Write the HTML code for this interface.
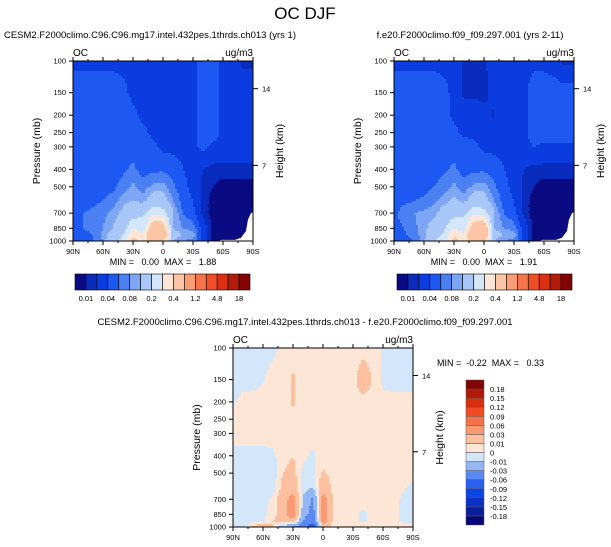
<!DOCTYPE html>
<html><head><meta charset="utf-8">
<style>
html,body{margin:0;padding:0;background:#fff;}
svg{display:block;font-family:"Liberation Sans",sans-serif;}
</style></head>
<body>
<svg id="chart" width="611" height="547" viewBox="0 0 611 547" xmlns="http://www.w3.org/2000/svg">
<text x="305" y="19" font-size="17" text-anchor="middle">OC DJF</text>
<g id="root"></g>
</svg>
<script>
// ---------- data ----------
const lats = [90,80,70,60,50,40,30,20,10,0,-10,-20,-30,-40,-50,-60,-70,-80,-90];
const levels = [100,150,200,250,300,400,500,600,700,850,925,1000];
const absBounds = [0.01,0.02,0.04,0.06,0.08,0.1,0.2,0.3,0.4,0.8,1.2,2.4,4.8,9.6,18];
const absLabels = ["0.01","0.04","0.08","0.2","0.4","1.2","4.8","18"];
const diffBounds = [-0.18,-0.15,-0.12,-0.09,-0.06,-0.03,-0.01,0,0.01,0.03,0.06,0.09,0.12,0.15,0.18];
const diffLabels = ["-0.18","-0.15","-0.12","-0.09","-0.06","-0.03","-0.01","0","0.01","0.03","0.06","0.09","0.12","0.15","0.18"];
const absColors = ["#0a0a82","#0a2cbc","#0a3ce0","#1e58f2","#4a80f2","#7ea6f5","#a9c6f8","#d3e6fa","#fde6d6","#fcc6a6","#f99c78","#f5744c","#ef4e26","#dc3012","#b31c0a","#840404"];
const diffColors = ["#06067a","#0a1e9a","#0a30c8","#0a44e6","#2a60f0","#5a88f2","#94b6f6","#d3e6fa","#fde6d6","#fcc0a0","#f99a72","#f5734a","#ef4c24","#da2e10","#b21a08","#820404"];
const leftVals = [
[0.035,0.035,0.035,0.035,0.035,0.035,0.035,0.035,0.035,0.035,0.035,0.035,0.035,0.05,0.05,0.035,0.03,0.015,0.015],
[0.05,0.05,0.05,0.05,0.05,0.045,0.035,0.035,0.035,0.035,0.035,0.035,0.035,0.05,0.05,0.035,0.035,0.035,0.035],
[0.05,0.05,0.05,0.05,0.05,0.05,0.045,0.035,0.035,0.035,0.035,0.035,0.035,0.05,0.05,0.035,0.035,0.035,0.035],
[0.05,0.05,0.05,0.05,0.05,0.05,0.05,0.045,0.035,0.035,0.035,0.035,0.035,0.05,0.05,0.035,0.035,0.035,0.035],
[0.05,0.05,0.05,0.05,0.05,0.05,0.05,0.05,0.045,0.035,0.035,0.035,0.035,0.045,0.035,0.035,0.035,0.035,0.035],
[0.05,0.05,0.05,0.05,0.05,0.055,0.065,0.05,0.055,0.055,0.05,0.04,0.035,0.02,0.015,0.015,0.015,0.015,0.015],
[0.05,0.05,0.05,0.05,0.055,0.07,0.085,0.07,0.085,0.09,0.065,0.045,0.035,0.015,0.01,0.005,0.005,0.005,0.005],
[0.05,0.05,0.055,0.06,0.07,0.09,0.1,0.09,0.13,0.12,0.08,0.05,0.04,0.015,0.005,0.005,0.005,0.005,0.005],
[0.055,0.06,0.065,0.075,0.085,0.11,0.15,0.18,0.28,0.25,0.1,0.06,0.045,0.015,0.005,0.005,0.005,0.005,0.005],
[0.05,0.06,0.065,0.08,0.1,0.15,0.3,0.25,0.5,0.5,0.1,0.08,0.07,0.03,0.005,0.005,0.005,0.005,0.005],
[0.05,0.055,0.06,0.085,0.12,0.2,0.38,0.32,0.6,0.6,0.12,0.1,0.09,0.03,0.005,0.005,0.005,0.005,0.005],
[0.045,0.05,0.06,0.08,0.15,0.25,0.45,0.35,0.45,0.4,0.1,0.08,0.07,0.03,0.005,0.005,0.005,0.005,0.005]];
const rightVals = [
[0.035,0.035,0.035,0.035,0.035,0.035,0.035,0.015,0.015,0.015,0.035,0.035,0.035,0.035,0.035,0.035,0.03,0.015,0.015],
[0.05,0.05,0.05,0.05,0.05,0.045,0.035,0.015,0.015,0.015,0.025,0.035,0.035,0.035,0.05,0.05,0.05,0.05,0.05],
[0.05,0.05,0.05,0.05,0.05,0.05,0.035,0.035,0.035,0.025,0.018,0.035,0.035,0.035,0.05,0.05,0.05,0.05,0.05],
[0.05,0.05,0.05,0.05,0.05,0.05,0.045,0.035,0.035,0.035,0.035,0.035,0.035,0.035,0.05,0.05,0.05,0.05,0.05],
[0.05,0.05,0.05,0.05,0.05,0.05,0.05,0.05,0.045,0.035,0.035,0.035,0.035,0.035,0.04,0.035,0.035,0.035,0.035],
[0.05,0.05,0.05,0.05,0.05,0.055,0.065,0.05,0.055,0.055,0.05,0.04,0.035,0.02,0.015,0.015,0.015,0.015,0.015],
[0.05,0.05,0.05,0.05,0.06,0.07,0.085,0.07,0.085,0.09,0.065,0.045,0.035,0.015,0.01,0.005,0.005,0.005,0.005],
[0.05,0.055,0.06,0.065,0.075,0.09,0.11,0.09,0.13,0.12,0.08,0.05,0.04,0.015,0.005,0.005,0.005,0.005,0.005],
[0.055,0.07,0.08,0.085,0.09,0.12,0.16,0.18,0.28,0.25,0.1,0.06,0.045,0.015,0.005,0.005,0.005,0.005,0.005],
[0.05,0.06,0.075,0.09,0.12,0.18,0.3,0.25,0.5,0.55,0.1,0.08,0.07,0.03,0.005,0.005,0.005,0.005,0.005],
[0.05,0.055,0.07,0.09,0.15,0.22,0.38,0.32,0.62,0.65,0.12,0.1,0.09,0.03,0.005,0.005,0.005,0.005,0.005],
[0.045,0.05,0.06,0.09,0.2,0.28,0.45,0.35,0.45,0.4,0.1,0.08,0.07,0.03,0.005,0.005,0.005,0.005,0.005]];
const diffVals = [
[-0.005,-0.005,-0.005,-0.005,-0.003,0.005,0.005,0.005,0.005,0.005,0.005,0.005,0.005,0.005,0.005,-0.001,-0.005,-0.005,-0.005],
[-0.005,-0.005,-0.005,-0.001,0.005,0.005,0.012,0.005,0.005,0.005,0.005,0.005,0.005,0.02,0.008,-0.003,-0.005,-0.005,-0.005],
[-0.002,0.004,0.005,0.005,0.005,0.005,0.012,0.005,0.005,0.005,0.005,0.005,0.005,0.006,0.005,0.004,0.004,0.004,0.004],
[0.005,0.005,0.005,0.005,0.005,0.005,0.005,0.005,0.005,0.005,0.005,0.005,0.005,0.005,0.005,0.005,0.005,0.005,0.005],
[0.005,0.005,0.005,0.005,0.005,0.005,0.005,0.005,0.005,0.005,0.005,0.005,0.005,0.005,0.005,0.005,0.005,0.005,0.005],
[-0.004,-0.004,-0.004,-0.004,-0.002,0.005,0.01,0.002,-0.002,0.005,0.005,0.005,0.005,0.005,0.005,0.005,0.005,0.005,0.005],
[-0.005,-0.005,-0.005,-0.005,-0.005,0.01,0.015,-0.003,-0.003,0.012,0.005,0.005,0.005,0.005,0.005,0.005,0.005,0.004,0.004],
[-0.005,-0.005,-0.005,-0.005,-0.005,0.015,0.02,-0.005,-0.01,0.025,0.005,0.005,0.005,0.005,0.005,0.005,0.005,0.002,-0.003],
[-0.005,-0.003,-0.004,-0.004,0.003,0.02,0.04,-0.01,-0.035,0.04,0.01,0.005,0.005,0.005,0.005,0.005,0.005,-0.003,-0.005],
[-0.008,-0.003,-0.004,-0.003,0.005,0.02,0.05,-0.02,-0.04,0.05,0.01,0.004,0.003,-0.003,0.004,0.004,0.004,-0.003,-0.005],
[-0.005,-0.004,-0.004,-0.002,0.01,0.02,0.02,-0.03,-0.05,0.04,0.008,0.004,0.003,-0.002,0.004,0.004,0.004,-0.002,-0.004],
[-0.005,-0.005,0.01,0.03,0.01,-0.02,-0.03,-0.05,-0.08,0.02,0.005,0.004,0.003,0.003,0.004,0.004,0.004,0.004,0.004]];
const xTickLabels = ["90N","60N","30N","0","30S","60S","90S"];
const xTickLats = [90,60,30,0,-30,-60,-90];
const yTickLabels = ["100","150","200","250","300","400","500","700","850","1000"];
const yTickVals = [100,150,200,250,300,400,500,700,850,1000];
const hTickLabels = ["14","7"];
const hTickPress = [150,400];
// ---------- rendering ----------
const NS="http://www.w3.org/2000/svg";
const root=document.getElementById('root');
function mk(tag,attrs,parent){const e=document.createElementNS(NS,tag);for(const k in attrs)e.setAttribute(k,attrs[k]);(parent||root).appendChild(e);return e;}
function colorFor(v,bounds,colors){let i=0;while(i<bounds.length&&v>=bounds[i])i++;return colors[i];}
function sample(vals,lat,p){
  const fx=(90-lat)/10;let i=Math.min(17,Math.max(0,Math.floor(fx)));const tx=fx-i;
  const lp=Math.log10(p);let j=0;while(j<levels.length-2&&Math.log10(levels[j+1])<lp)j++;
  const a=Math.log10(levels[j]),b=Math.log10(levels[j+1]);let ty=(lp-a)/(b-a);ty=Math.max(0,Math.min(1,ty));
  const v00=vals[j][i],v01=vals[j][i+1],v10=vals[j+1][i],v11=vals[j+1][i+1];
  return (v00*(1-tx)+v01*tx)*(1-ty)+(v10*(1-tx)+v11*tx)*ty;
}
function panel(opt){
  const g=mk('g',{});
  
  
  const X=opt.x,Y=opt.y,W=180,H=opt.h;
  const xs=lat=>X+(90-lat)/180*W;
  const ys=p=>Y+(Math.log10(p)-2)*H;
  const field=mk('g',{},g);
  
  
  const step=2;
  for(let py=0;py<H;py+=step){
    for(let px=0;px<W;px+=step){
      const lat=90-(px+step/2)/W*180;
      const p=Math.pow(10,2+(py+step/2)/H);
      const v=sample(opt.vals,lat,p);
      const r=mk('rect',{x:X+px,y:Y+py,width:Math.min(step,W-px)+0.4,height:Math.min(step,H-py)+0.4,fill:colorFor(v,opt.bounds,opt.colors)},field);
      
      
    }
  }
  if(opt.mask){
    const m=mk('polygon',{fill:'#fff',points:`${xs(-55)},${ys(1000)} ${xs(-58)},${ys(985)} ${xs(-72)},${ys(985)} ${xs(-78)},${ys(960)} ${xs(-83)},${ys(880)} ${xs(-85)},${ys(760)} ${xs(-88)},${ys(700)} ${xs(-90)},${ys(690)} ${xs(-90)},${ys(1000)}`},g);
    
    
  }
  const fr=mk('rect',{x:X,y:Y,width:W,height:H,fill:'none',stroke:'#000','stroke-width':1},g);
  
  
  xTickLats.forEach((lt,k)=>{
    mk('line',{x1:xs(lt),x2:xs(lt),y1:Y+H,y2:Y+H+4,stroke:'#000'},g);
    mk('line',{x1:xs(lt),x2:xs(lt),y1:Y,y2:Y-4,stroke:'#000'},g);
    const t=mk('text',{x:xs(lt),y:Y+H+13,'font-size':7.5,'text-anchor':'middle'},g);
    t.textContent=xTickLabels[k];
    
    
  });
  for(let lt=90;lt>=-90;lt-=15){mk('line',{x1:xs(lt),x2:xs(lt),y1:Y+H,y2:Y+H+2,stroke:'#000'},g);mk('line',{x1:xs(lt),x2:xs(lt),y1:Y,y2:Y-2,stroke:'#000'},g);}
  yTickVals.forEach((p,k)=>{
    mk('line',{x1:X-4,x2:X,y1:ys(p),y2:ys(p),stroke:'#000'},g);
    const t=mk('text',{x:X-7,y:ys(p)+2.5,'font-size':7.5,'text-anchor':'end'},g);
    t.textContent=yTickLabels[k];
    
    
  });
  hTickPress.forEach((p,k)=>{
    mk('line',{x1:X+W,x2:X+W+5,y1:ys(p)-4,y2:ys(p)-4,stroke:'#000'},g);
    const t=mk('text',{x:X+W+9,y:ys(p)-1,'font-size':7.5},g);
    t.textContent=hTickLabels[k];
    
    
  });
  let t=mk('text',{x:X-33,y:Y+H/2,'font-size':10.5,'text-anchor':'middle',transform:`rotate(-90 ${X-33} ${Y+H/2})`},g);
  t.textContent='Pressure (mb)';
  t=mk('text',{x:X+W+30,y:Y+H/2,'font-size':10.5,'text-anchor':'middle',transform:`rotate(-90 ${X+W+30} ${Y+H/2})`},g);
  t.textContent='Height (km)';
  t=mk('text',{x:X,y:Y-5,'font-size':10},g);t.textContent='OC';
  
  t=mk('text',{x:X+W,y:Y-5,'font-size':10,'text-anchor':'end'},g);t.textContent='ug/m3';
  
  t=mk('text',{x:opt.subX,y:opt.subY,'font-size':9.5,'text-anchor':'middle'},g);t.textContent=opt.sub;
  
  t=mk('text',{x:opt.mmX,y:opt.mmY,'font-size':9,'text-anchor':opt.mmAnchor},g);t.textContent=opt.mm;
  
}
function hbar(x,y,name){
  const g=mk('g',{});
  const bw=175/16;
  absColors.forEach((c,i)=>{const r=mk('rect',{x:x+i*bw,y:y,width:bw,height:16,fill:c,stroke:'#000','stroke-width':0.6},g);
    });
  absLabels.forEach((l,k)=>{const t=mk('text',{x:x+(1+2*k)*bw,y:y+27,'font-size':7.5,'text-anchor':'middle'},g);t.textContent=l;
    });
}
function vbar(x,y,name){
  const g=mk('g',{});
  const bh=145/16;
  diffColors.forEach((c,i)=>{const r=mk('rect',{x:x,y:y+(15-i)*bh,width:18,height:bh,fill:c,stroke:'#555','stroke-width':0.5},g);
    });
  diffLabels.forEach((l,k)=>{const t=mk('text',{x:x+24,y:y+(15-k)*bh+3,'font-size':7.5},g);t.textContent=l;
    });
}
const S='\u00a0';
panel({name:'panel-cesm2',x:73,y:61,h:180,vals:leftVals,bounds:absBounds,colors:absColors,mask:true,
  sub:'CESM2.F2000climo.C96.C96.mg17.intel.432pes.1thrds.ch013 (yrs 1)',subX:150,subY:38,
  mm:'MIN ='+S+S+S+'0.00'+S+S+'MAX ='+S+S+S+'1.88',mmX:163,mmY:265,mmAnchor:'middle'});
panel({name:'panel-f09',x:394,y:61,h:180,vals:rightVals,bounds:absBounds,colors:absColors,mask:true,
  sub:'f.e20.F2000climo.f09_f09.297.001 (yrs 2-11)',subX:470,subY:38,
  mm:'MIN ='+S+S+S+'0.00'+S+S+'MAX ='+S+S+S+'1.91',mmX:484,mmY:265,mmAnchor:'middle'});
panel({name:'panel-difference',x:233,y:348,h:179,vals:diffVals,bounds:diffBounds,colors:diffColors,mask:false,
  sub:'CESM2.F2000climo.C96.C96.mg17.intel.432pes.1thrds.ch013 - f.e20.F2000climo.f09_f09.297.001',subX:305,subY:325,
  mm:'MIN ='+S+S+'-0.22'+S+S+'MAX ='+S+S+S+'0.33',mmX:437,mmY:366,mmAnchor:'start'});
hbar(75,274,'colorbar-top-left');
hbar(397,274,'colorbar-top-right');
vbar(466,380,'colorbar-difference');
</script>
</body></html>
